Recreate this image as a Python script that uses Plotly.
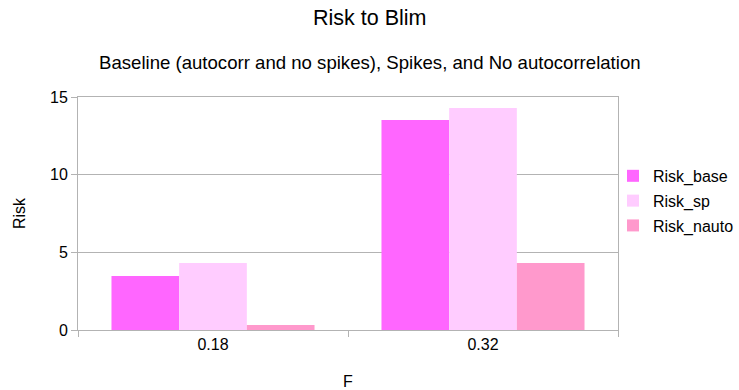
import plotly.graph_objects as go

categories = ["0.18", "0.32"]
risk_base = [3.48, 13.52]
risk_sp = [4.31, 14.29]
risk_nauto = [0.32, 4.31]

series = [("Risk_base", risk_base, "#FF66FF"),
          ("Risk_sp", risk_sp, "#FFCCFF"),
          ("Risk_nauto", risk_nauto, "#FF99CC")]

fig = go.Figure()
for i, (name, vals, col) in enumerate(series):
    fig.add_trace(go.Bar(x=categories, y=vals, name=name, marker=dict(color=col, line=dict(width=0)),
                         legendgroup=f"g{i}"))

font = "Liberation Sans, Arial, sans-serif"
fig.update_layout(
    width=739, height=390,
    margin=dict(l=78, r=121, t=97, b=60, autoexpand=False),
    paper_bgcolor="white", plot_bgcolor="white",
    font=dict(family=font, size=16, color="#000000"),
    barmode="group", bargap=0.248, bargroupgap=0,
    showlegend=True,
    legend=dict(x=613 / 739, xref="container", xanchor="left", y=0.554, yanchor="middle",
                font=dict(size=16), tracegroupgap=1, traceorder="grouped",
                itemwidth=30, bgcolor="rgba(0,0,0,0)"),
    annotations=[
        dict(text="Risk to Blim", x=0.54, y=1.339, xref="paper", yref="paper", yanchor="middle",
             xanchor="center", showarrow=False, font=dict(size=21.5)),
        dict(text="Baseline (autocorr and no spikes), Spikes, and No autocorrelation", x=0.54, y=1.146,
             xref="paper", yref="paper", yanchor="middle", xanchor="center",
             showarrow=False, font=dict(size=18.6)),
    ],
)
fig.update_xaxes(
    type="category", tickson="boundaries", ticks="outside", ticklen=6, tickcolor="#b3b3b3",
    showline=True, linecolor="#b3b3b3", mirror=True, showgrid=False,
    title=dict(text="F", font=dict(size=16), standoff=26),
    tickfont=dict(size=16),
)
fig.update_yaxes(
    range=[0, 15], dtick=5, ticks="outside", ticklen=6, tickcolor="#b3b3b3",
    showline=True, linecolor="#b3b3b3", mirror=True, showgrid=True, gridcolor="#b3b3b3",
    zeroline=False, title=dict(text="Risk", font=dict(size=16), standoff=20),
    tickfont=dict(size=16),
)
fig.write_html("out.html")
